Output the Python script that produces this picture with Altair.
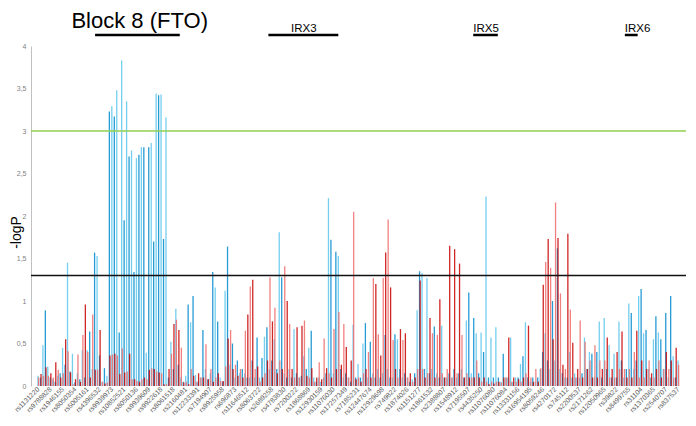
import altair as alt
import pandas as pd

snp_labels = [
    "rs1131220", "rs9788828", "rs1946155", "rs8050354", "rs5005161", "rs4396532",
    "rs9939973", "rs10852521", "rs8050136", "rs9939609", "rs9922618", "rs8061518",
    "rs2160481", "rs12233391", "rs7194907", "rs9925958", "rs696873", "rs11646512",
    "rs8063722", "rs2689258", "rs4783830", "rs7200222", "rs1868869", "rs12930159",
    "rs11076030", "rs17257349", "rs7185231", "rs12447674", "rs12929698", "rs749822",
    "rs1874026", "rs1151277", "rs1861532", "rs2388807", "rs1548912", "rs7195507",
    "rs4435250", "rs11076080", "rs11076084", "rs13331156", "rs16954195", "rs8059246",
    "rs4270172", "rs745112", "rs2200537", "rs2171262", "rs12050965", "rs39822",
    "rs8499755", "rs31104", "rs1370365", "rs2540707", "rs837537",
]

blue_values = [
    0.12, 0.10, 0.48, 0.89, 0.23, 0.10, 0.08, 0.05, 0.12, 0.15,
    0.45, 0.25, 1.45, 0.17, 0.38, 0.04, 0.15, 0.08, 0.42, 0.10,
    0.42, 0.64, 0.20, 1.57, 1.53, 0.36, 0.05, 0.21, 0.12, 3.23,
    3.29, 3.17, 3.48, 0.63, 3.83, 1.95, 3.35, 2.70, 2.77, 1.34,
    2.68, 2.72, 2.81, 2.81, 0.39, 2.81, 2.86, 1.70, 3.44, 3.42,
    3.43, 1.73, 3.16, 0.10, 0.52, 0.20, 0.91, 0.25, 0.10, 0.05,
    0.12, 0.96, 0.75, 1.06, 0.13, 0.05, 0.10, 0.66, 0.20, 0.08,
    0.15, 1.34, 1.16, 0.76, 0.10, 0.05, 1.12, 1.64, 0.25, 0.50,
    0.10, 0.30, 0.15, 0.20, 0.15, 0.10, 0.10, 0.30, 0.10, 0.57,
    0.10, 0.33, 0.58, 0.69, 0.20, 0.30, 0.55, 0.20, 1.81, 1.28,
    0.15, 0.10, 0.20, 0.10, 0.67, 0.15, 0.10, 0.12, 0.35, 0.20,
    0.45, 0.65, 0.10, 0.05, 0.10, 0.05, 0.10, 0.15, 2.21, 1.72,
    0.15, 1.58, 1.53, 0.20, 0.10, 0.15, 0.10, 0.05, 0.72, 0.10,
    0.26, 0.10, 0.50, 0.74, 0.10, 0.52, 0.15, 0.10, 0.20, 0.10,
    0.15, 0.60, 0.20, 0.10, 0.10, 0.61, 0.55, 0.20, 0.10, 0.15,
    0.10, 0.05, 0.08, 0.15, 0.89, 1.35, 1.33, 0.20, 1.27, 0.15,
    0.20, 0.70, 0.15, 0.10, 0.71, 0.10, 0.10, 0.15, 0.10, 0.20,
    0.10, 0.15, 0.20, 0.10, 0.77, 1.10, 0.15, 0.80, 0.62, 0.15,
    0.63, 0.40, 2.23, 0.10, 0.57, 0.10, 0.69, 0.10, 0.05, 0.38,
    0.10, 0.10, 0.57, 0.05, 0.10, 0.10, 0.26, 0.35, 0.75, 0.10,
    0.05, 0.10, 0.05, 0.10, 0.20, 0.40, 0.62, 0.30, 0.20, 1.00,
    0.30, 1.62, 0.20, 0.15, 0.10, 0.10, 0.40, 0.10, 0.15, 0.10,
    0.10, 0.15, 0.57, 0.20, 0.40, 0.38, 0.10, 0.40, 0.76, 0.10,
    0.80, 0.20, 0.48, 0.10, 0.38, 0.10, 0.76, 0.30, 0.10, 0.20,
    0.97, 0.86, 0.20, 0.30, 1.06, 1.14, 0.62, 0.66, 0.20, 0.10,
    0.55, 0.82, 0.63, 0.55, 0.20, 0.86, 0.10, 1.06, 0.35, 0.10, 0.30,
]

red_values = [
    0.10, 0.14, 0.12, 0.22, 0.12, 0.15, 0.10, 0.28, 0.19, 0.10,
    0.15, 0.55, 0.41, 0.16, 0.02, 0.08, 0.37, 0.05, 0.60, 0.96,
    0.40, 0.10, 0.84, 0.19, 0.19, 0.66, 0.05, 0.03, 0.04, 0.36,
    0.37, 0.38, 0.36, 0.14, 0.44, 0.16, 0.17, 0.38, 0.08, 0.08,
    0.06, 0.05, 0.08, 0.10, 0.08, 0.19, 0.21, 0.20, 0.17, 0.16,
    0.15, 0.02, 0.02, 0.20, 0.38, 0.73, 0.78, 0.66, 0.45, 0.04,
    0.05, 0.02, 0.20, 0.12, 0.05, 0.15, 0.10, 0.10, 0.49, 0.08,
    0.20, 0.05, 0.10, 0.15, 0.06, 0.06, 0.23, 0.56, 0.66, 0.20,
    0.25, 0.12, 0.20, 0.10, 0.65, 0.84, 1.17, 1.25, 0.20, 0.23,
    0.05, 0.10, 0.15, 0.30, 1.28, 0.76, 0.92, 0.15, 0.30, 0.20,
    1.41, 1.00, 0.73, 0.20, 0.10, 0.69, 0.10, 0.71, 0.77, 0.12,
    0.10, 0.21, 0.05, 0.10, 0.28, 0.08, 0.56, 0.21, 0.15, 0.10,
    0.67, 0.20, 0.87, 0.25, 0.73, 0.46, 0.10, 0.30, 2.05, 0.08,
    0.10, 0.05, 0.15, 0.20, 0.40, 0.10, 1.27, 1.20, 0.61, 0.36,
    1.27, 1.57, 1.96, 1.16, 0.54, 0.20, 0.10, 0.67, 0.54, 0.62,
    0.10, 0.15, 0.05, 0.10, 0.20, 1.24, 0.20, 0.10, 0.15, 0.80,
    0.62, 0.10, 0.60, 1.02, 0.15, 0.10, 0.20, 1.65, 0.10, 1.61,
    0.15, 1.44, 0.60, 0.10, 0.15, 0.10, 0.10, 0.10, 0.30, 0.10,
    0.05, 0.10, 0.05, 0.02, 0.05, 0.03, 0.05, 0.05, 0.04, 0.10,
    0.10, 0.57, 0.05, 0.10, 0.05, 0.08, 0.05, 0.10, 0.15, 0.71,
    0.10, 0.05, 0.20, 0.05, 0.21, 1.19, 1.46, 1.73, 1.39, 0.55,
    2.16, 1.74, 1.09, 0.25, 0.20, 1.79, 0.90, 0.51, 0.10, 0.20,
    0.77, 0.10, 0.52, 0.20, 0.30, 0.10, 0.48, 0.10, 0.30, 0.20,
    0.30, 0.57, 0.10, 0.20, 0.10, 0.40, 0.20, 0.64, 0.20, 0.10,
    0.20, 0.10, 0.40, 0.65, 0.10, 0.30, 0.10, 0.20, 0.30, 0.15,
    0.10, 0.20, 0.30, 0.10, 0.20, 0.40, 0.20, 0.30, 0.10, 0.45, 0.25,
]

y_ticks = [0, 0.5, 1, 1.5, 2, 2.5, 3, 3.5, 4]
green_threshold = [3.0]
black_threshold = [1.3]

block_name = ["Block 8 (FTO)"]
block_text_x = [13.6]
gene_names = ["IRX3", "IRX5", "IRX6"]
gene_text_x = [102.8, 176.8, 238.4]
region_start = [23.2, 93.6, 176.8, 238.4]
region_end = [57.6, 122.0, 186.8, 243.6]

LABEL_STEP = 5
n = len(blue_values)
df = pd.DataFrame({
    "idx": list(range(n)),
    "blue": blue_values,
    "red": red_values,
})
df["bshade"] = ["bd" if i % 2 == 1 else "bl" for i in range(n)]
df["rshade"] = ["rd" if i % 2 == 1 else "rl" for i in range(n)]

label_js = "[" + ",".join("'" + s + "'" for s in snp_labels) + "]"
x_scale = alt.Scale(domain=[-0.8, 261.2], nice=False, zero=False)
y_scale = alt.Scale(domain=[0, 4], nice=False)
color_scale = alt.Scale(domain=["bd", "bl", "rd", "rl"],
                        range=["#1a96d2", "#6dcbee", "#c80000", "#ef6a6a"])

FONT = "Liberation Sans"

x_axis = alt.Axis(
    values=list(range(0, n, LABEL_STEP)),
    labelExpr=label_js + "[round(datum.value / %d)]" % LABEL_STEP,
    labelAngle=315, labelAlign="right", labelBaseline="middle",
    labelFontSize=6.8, labelColor="#595959", labelFont=FONT, labelPadding=2,
    ticks=False, domain=False, grid=False, title=None,
    labelOverlap=False, labelBound=False,
)
y_axis = alt.Axis(
    values=y_ticks,
    labelExpr="replace(format(datum.value, '~g'), '.', ',')",
    labelFontSize=7, labelColor="#7f7f7f", labelFont=FONT, labelPadding=5,
    ticks=False, grid=False, domainColor="#c0c0c0",
    title="-logP", titleFontSize=14, titleFontWeight="normal", titleColor="#000000",
    titleFont=FONT, titleAngle=270, titleX=-15, titleY=186,
    titleAlign="center", titleBaseline="middle",
)

blue_bars = alt.Chart(df).mark_bar(width=1.3, opacity=0.95).encode(
    x=alt.X("idx:Q", scale=x_scale, axis=x_axis),
    y=alt.Y("blue:Q", scale=y_scale, axis=y_axis),
    color=alt.Color("bshade:N", scale=color_scale, legend=None),
)
red_bars = alt.Chart(df).mark_bar(width=1.3, opacity=0.85, xOffset=0.6).encode(
    x=alt.X("idx:Q", scale=x_scale, axis=x_axis),
    y=alt.Y("red:Q", scale=y_scale, axis=y_axis),
    color=alt.Color("rshade:N", scale=color_scale, legend=None),
)

green_line = alt.Chart(pd.DataFrame({"v": green_threshold})).mark_rule(
    color="#92d050", strokeWidth=1.5).encode(y=alt.Y("v:Q", scale=y_scale, axis=y_axis))
black_line = alt.Chart(pd.DataFrame({"v": black_threshold})).mark_rule(
    color="#111111", strokeWidth=1.3).encode(y=alt.Y("v:Q", scale=y_scale, axis=y_axis))

regions = pd.DataFrame({"s": region_start, "e": region_end})
region_rules = alt.Chart(regions).mark_rule(color="#000000", strokeWidth=2.5).encode(
    x=alt.X("s:Q", scale=x_scale, axis=x_axis),
    x2="e:Q",
    y=alt.value(-11),
)

block_text = alt.Chart(pd.DataFrame({"t": block_name, "x": block_text_x})).mark_text(
    align="left", baseline="alphabetic", fontSize=22, font=FONT, color="#000000").encode(
    x=alt.X("x:Q", scale=x_scale, axis=x_axis), y=alt.value(-18), text="t:N")

gene_text = alt.Chart(pd.DataFrame({"t": gene_names, "x": gene_text_x})).mark_text(
    align="left", baseline="alphabetic", fontSize=11.5, font=FONT, color="#000000").encode(
    x=alt.X("x:Q", scale=x_scale, axis=x_axis), y=alt.value(-14), text="t:N")

chart = alt.layer(
    blue_bars, red_bars, green_line, black_line, region_rules, block_text, gene_text
).properties(
    width=655, height=340,
    autosize=alt.AutoSizeParams(type="none"),
    padding={"left": 23, "top": 38, "right": 0, "bottom": 32},
).configure_view(stroke=None)

chart.save("out.html", embed_options={"renderer": "svg", "actions": False})
